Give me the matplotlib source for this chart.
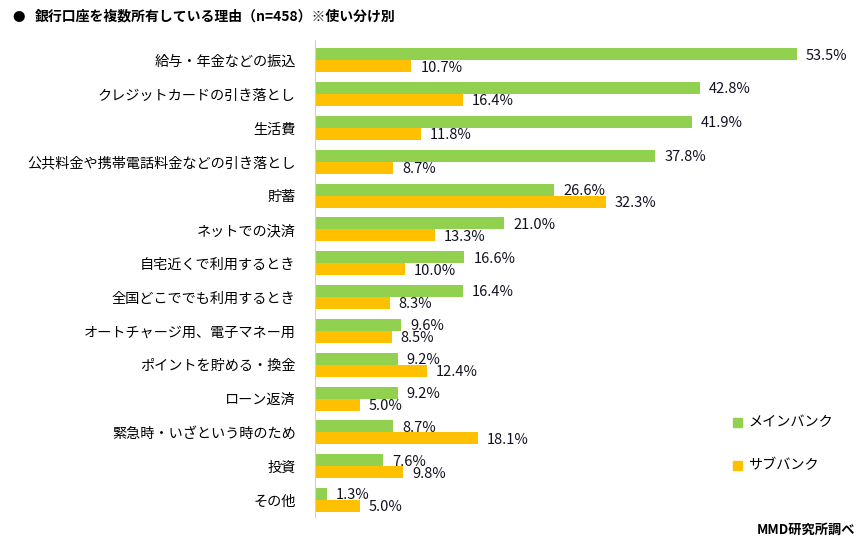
import matplotlib.pyplot as plt
import numpy as np

plt.rcParams['font.family'] = ['Noto Sans CJK JP', 'DejaVu Sans']

categories = ['給与・年金などの振込', 'クレジットカードの引き落とし', '生活費',
              '公共料金や携帯電話料金などの引き落とし', '貯蓄', 'ネットでの決済',
              '自宅近くで利用するとき', '全国どこででも利用するとき',
              'オートチャージ用、電子マネー用', 'ポイントを貯める・換金',
              'ローン返済', '緊急時・いざという時のため', '投資', 'その他']
main_bank = [53.5, 42.8, 41.9, 37.8, 26.6, 21.0, 16.6, 16.4, 9.6, 9.2, 9.2, 8.7, 7.6, 1.3]
sub_bank = [10.7, 16.4, 11.8, 8.7, 32.3, 13.3, 10.0, 8.3, 8.5, 12.4, 5.0, 18.1, 9.8, 5.0]

green = '#92D050'
orange = '#FFC000'

fig = plt.figure(figsize=(8.65, 5.48), dpi=100)
ax = fig.add_axes([315/865, 1 - 517/548, 540/865, 477/548])

y = np.arange(len(categories))
h = 0.355
ax.barh(y - h/2, main_bank, height=h, color=green)
ax.barh(y + h/2, sub_bank, height=h, color=orange)

for i in range(len(categories)):
    ax.text(main_bank[i] + 1.0, y[i] - h/2 + 0.04, f'{main_bank[i]:.1f}%', va='center', ha='left',
            fontsize=10.5, color='#111122')
    ax.text(sub_bank[i] + 1.0, y[i] + h/2 + 0.04, f'{sub_bank[i]:.1f}%', va='center', ha='left',
            fontsize=10.5, color='#111122')

ax.set_xlim(0, 60)
ax.set_ylim(13.5, -0.6)
ax.set_yticks(y)
ax.set_yticklabels(categories, fontsize=10.2)
ax.tick_params(axis='y', length=0, pad=14)
ax.set_xticks([])
for s in ['top', 'right', 'bottom']:
    ax.spines[s].set_visible(False)
ax.spines['left'].set_color('#d0d0d0')

fig.text(12/865, 1 - 17/548, '●', fontsize=9, va='center', ha='left')
fig.text(35/865, 1 - 17/548, '銀行口座を複数所有している理由（n=458）※使い分け別',
         fontsize=10, fontweight='bold', va='center', ha='left')

# legend
fig.patches.append(plt.Rectangle((733/865, 1 - 427/548), 9/865, 9/548, color=green, transform=fig.transFigure))
fig.text(748/865, 1 - 422/548, 'メインバンク', fontsize=10.2, va='center', ha='left')
fig.patches.append(plt.Rectangle((733/865, 1 - 470/548), 9/865, 9/548, color=orange, transform=fig.transFigure))
fig.text(748/865, 1 - 465/548, 'サブバンク', fontsize=10.2, va='center', ha='left')

fig.text(855/865, 1 - 530/548, 'MMD研究所調べ', fontsize=9.5, fontweight='bold', va='center', ha='right')

plt.savefig('out.png', dpi=100)
plt.close()
